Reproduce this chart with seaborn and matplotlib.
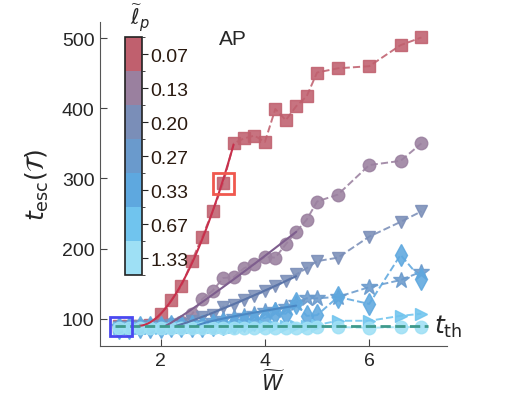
import matplotlib
matplotlib.use("Agg")
import matplotlib.pyplot as plt
import numpy as np
import pandas as pd
import seaborn as sns
from matplotlib.colors import ListedColormap, BoundaryNorm
from matplotlib.cm import ScalarMappable
from matplotlib.patches import Rectangle

# window size W (shared grid)
W = [1.2, 1.4, 1.6, 1.8, 2.0, 2.2, 2.4, 2.6, 2.8, 3.0, 3.2, 3.4, 3.6, 3.8,
     4.0, 4.2, 4.4, 4.6, 4.8, 5.0, 5.4, 6.0, 6.6, 7.0]

LP_LABELS = ["0.07", "0.13", "0.20", "0.27", "0.33", "0.67", "1.33"]
COLORS = ["#c0606e", "#9a809f", "#7a8eb8", "#6a9acc", "#5ea8df", "#70c4ee", "#9ee0f5"]
FIT_COLORS = ["#c8304c", "#7e5e8e", "#5a74a8", "#4a88c4"]
MARKERS = ["s", "o", "v", "*", "d", ">", "o"]
MSIZES = [9, 9, 9, 12, 11, 9, 9]

t_007 = [90, 90, 90, 91, 106, 126, 146, 182, 217, 253, 293, 350, 357, 361,
         352, 399, 383, 403, 417, 451, 457, 460, 490, 501]
t_013 = [89, 89, 90, 90, 91, 92, 95, 106, 128, 140, 158, 159, 172, 178,
         188, 187, 206, 224, 241, 267, 277, 319, 325, 350]
t_020 = [88, 88, 89, 89, 90, 91, 93, 96, 103, 105, 117, 120, 127, 133,
         139, 146, 154, 163, 172, 182, 187, 217, 238, 253]
t_027 = [88, 88, 88, 89, 89, 90, 90, 92, 94, 97, 100, 102, 104, 107,
         111, 113, 116, 123, 129, 129, 131, 145, 155, 167]
t_033 = [87, 87, 88, 88, 88, 89, 89, 90, 90, 91, 92, 94, 96, 98,
         101, 108, 107, 122, 104, 105, 131, 121, 191, 156]
t_067 = [86, 86, 87, 87, 87, 87, 88, 88, 88, 88, 88, 88, 89, 89,
         89, 89, 90, 90, 90, 91, 97, 97, 104, 107]
t_133 = [86, 86, 86, 86, 86, 86, 87, 87, 87, 87, 87, 87, 87, 87,
         87, 87, 87, 87, 87, 88, 88, 87, 88, 88]
SERIES = [t_007, t_013, t_020, t_027, t_033, t_067, t_133]

# power-law fits (t - t_th) ~ a (W - W0)^p, index -> (W0, W_end)
FIT_RANGES = {0: (1.6, 3.4), 1: (2.1, 4.6), 2: (2.3, 4.6), 3: (2.7, 4.6)}
T_TH = 90

sns.set_style("ticks")
plt.rcParams["font.family"] = ["Liberation Sans", "DejaVu Sans"]
plt.rcParams["mathtext.fontset"] = "dejavusans"

fig = plt.figure(figsize=(5.3, 4.06), dpi=100)
ax = fig.add_axes([0.1887, 0.1453, 0.6547, 0.798])

for i, ys in enumerate(SERIES):
    df = pd.DataFrame({"W": W, "t": ys})
    sns.lineplot(data=df, x="W", y="t", ax=ax, color=COLORS[i], ls="--", lw=1.4,
                 marker=MARKERS[i], markersize=MSIZES[i], markeredgecolor=COLORS[i],
                 markeredgewidth=1.0, alpha=0.88, zorder=2 + i)
    if i in FIT_RANGES:
        w0, b = FIT_RANGES[i]
        sel = df[(df["W"] > w0) & (df["W"] <= b + 1e-9) & (df["t"] - T_TH >= 2)]
        dt = sel["t"] - T_TH
        p, loga = np.polyfit(np.log(sel["W"] - w0), np.log(dt), 1, w=np.sqrt(dt))
        xs = np.linspace(w0, b, 120)
        sns.lineplot(x=xs, y=T_TH + np.exp(loga) * (xs - w0) ** p, ax=ax,
                     color=FIT_COLORS[i], lw=1.5, zorder=10)

ax.plot([1.12, 7.13], [T_TH, T_TH], ls="--", color="#3f9a8c", lw=2, zorder=12)
ax.text(7.25, T_TH, r"$t_{\mathrm{th}}$", fontsize=18, va="center", ha="left")

ax.add_patch(Rectangle((3.2 - 0.2, 293 - 15), 0.4, 30, fill=False,
                       ec="#f0584e", lw=2, zorder=15))
ax.add_patch(Rectangle((1.25 - 0.21, 89 - 14), 0.42, 28, fill=False,
                       ec="#4a48f0", lw=2, zorder=15))

ax.set_xlim(0.84, 7.49)
ax.set_ylim(61, 523)
ax.set_xticks([2, 4, 6])
ax.set_yticks([100, 200, 300, 400, 500])
ax.tick_params(direction="in", length=5, labelsize=14, color="#444", pad=4)
for s in ["top", "right"]:
    ax.spines[s].set_visible(False)
for s in ["left", "bottom"]:
    ax.spines[s].set_color("#555")
ax.set_xlabel(r"$\widetilde{W}$", fontsize=15, labelpad=1)
ax.set_ylabel(r"$t_{\rm esc}(\mathcal{T})$", fontsize=18, labelpad=8)
ax.text(0.383, 0.948, "AP", transform=ax.transAxes, fontsize=15,
        ha="center", va="center")

# discrete colour bar for l_p
cax = fig.add_axes([0.236, 0.320, 0.032, 0.586])
cmap = ListedColormap(COLORS[::-1])
norm = BoundaryNorm(np.arange(len(COLORS) + 1), cmap.N)
cb = fig.colorbar(ScalarMappable(norm=norm, cmap=cmap), cax=cax)
cb.set_ticks(np.arange(len(COLORS)) + 0.5)
cb.set_ticklabels(LP_LABELS[::-1])
cb.ax.tick_params(labelsize=14, length=4, direction="out", color="#222",
                  labelcolor="#2a1a10", pad=2)
cb.outline.set_edgecolor("#222")
cb.outline.set_linewidth(1.2)
fig.text(0.264, 0.955, r"$\widetilde{\ell}_p$", fontsize=15, ha="center", va="center")

fig.savefig("out.png", dpi=100)
